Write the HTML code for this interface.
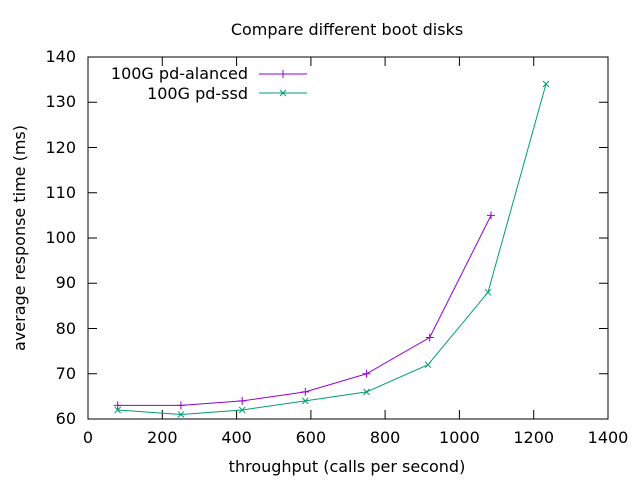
<!DOCTYPE html>
<html><head><style>
body{margin:0;background:#fff}
svg{display:block}
text{font-family:"DejaVu Sans","Liberation Sans",sans-serif;font-size:16px;fill:#000}
</style></head><body>
<svg width="640" height="480" viewBox="0 0 640 480" xmlns="http://www.w3.org/2000/svg">
<rect x="88" y="57" width="520" height="362" fill="none" stroke="#000" stroke-width="1"/>
<g stroke="#000" stroke-width="1">
<line x1="88" y1="419" x2="97" y2="419"/><line x1="608" y1="419" x2="599" y2="419"/>
<line x1="88" y1="373.75" x2="97" y2="373.75"/><line x1="608" y1="373.75" x2="599" y2="373.75"/>
<line x1="88" y1="328.5" x2="97" y2="328.5"/><line x1="608" y1="328.5" x2="599" y2="328.5"/>
<line x1="88" y1="283.25" x2="97" y2="283.25"/><line x1="608" y1="283.25" x2="599" y2="283.25"/>
<line x1="88" y1="238" x2="97" y2="238"/><line x1="608" y1="238" x2="599" y2="238"/>
<line x1="88" y1="192.75" x2="97" y2="192.75"/><line x1="608" y1="192.75" x2="599" y2="192.75"/>
<line x1="88" y1="147.5" x2="97" y2="147.5"/><line x1="608" y1="147.5" x2="599" y2="147.5"/>
<line x1="88" y1="102.25" x2="97" y2="102.25"/><line x1="608" y1="102.25" x2="599" y2="102.25"/>
<line x1="88" y1="57" x2="97" y2="57"/><line x1="608" y1="57" x2="599" y2="57"/>
<line x1="88" y1="419" x2="88" y2="410"/><line x1="88" y1="57" x2="88" y2="66"/>
<line x1="162.3" y1="419" x2="162.3" y2="410"/><line x1="162.3" y1="57" x2="162.3" y2="66"/>
<line x1="236.6" y1="419" x2="236.6" y2="410"/><line x1="236.6" y1="57" x2="236.6" y2="66"/>
<line x1="310.9" y1="419" x2="310.9" y2="410"/><line x1="310.9" y1="57" x2="310.9" y2="66"/>
<line x1="385.1" y1="419" x2="385.1" y2="410"/><line x1="385.1" y1="57" x2="385.1" y2="66"/>
<line x1="459.4" y1="419" x2="459.4" y2="410"/><line x1="459.4" y1="57" x2="459.4" y2="66"/>
<line x1="533.7" y1="419" x2="533.7" y2="410"/><line x1="533.7" y1="57" x2="533.7" y2="66"/>
<line x1="608" y1="419" x2="608" y2="410"/><line x1="608" y1="57" x2="608" y2="66"/>
</g>
<g text-anchor="end">
<text x="76" y="424">60</text><text x="76" y="379">70</text><text x="76" y="334">80</text>
<text x="76" y="288">90</text><text x="76" y="243">100</text><text x="76" y="198">110</text>
<text x="76" y="153">120</text><text x="76" y="107">130</text><text x="76" y="62">140</text>
</g>
<g text-anchor="middle">
<text x="88" y="443">0</text><text x="162.3" y="443">200</text><text x="236.6" y="443">400</text>
<text x="310.9" y="443">600</text><text x="385.1" y="443">800</text><text x="459.4" y="443">1000</text>
<text x="533.7" y="443">1200</text><text x="608" y="443">1400</text>
<text x="347" y="472">throughput (calls per second)</text>
<text x="347" y="35">Compare different boot disks</text>
<text transform="translate(25,238) rotate(-90)">average response time (ms)</text>
</g>
<g text-anchor="end">
<text x="248" y="79">100G pd-alanced</text>
<text x="248" y="99">100G pd-ssd</text>
</g>
<g fill="none" stroke-width="1">
<polyline stroke="#9400d3" points="117.7,405.4 180.9,405.4 242.2,400.9 305.3,391.9 366.6,373.75 429.7,337.5 491,215.4"/>
<line stroke="#9400d3" x1="259" y1="74" x2="307" y2="74"/>
<polyline stroke="#009e73" points="117.7,410 180.9,414.5 242.2,410 305.3,400.9 366.6,391.9 428,364.7 488,292.3 546,84"/>
<line stroke="#009e73" x1="259" y1="93" x2="307" y2="93"/>
</g>
<g stroke="#9400d3" stroke-width="1">
<path d="M113.7 405.4h8M117.7 401.4v8M176.9 405.4h8M180.9 401.4v8M238.2 400.9h8M242.2 396.9v8M301.3 391.9h8M305.3 387.9v8M362.6 373.75h8M366.6 369.75v8M425.7 337.5h8M429.7 333.5v8M487 215.4h8M491 211.4v8M279 74h8M283 70v8"/>
</g>
<g stroke="#009e73" stroke-width="1">
<path d="M114.7 407l6 6M114.7 413l6-6M177.9 411.5l6 6M177.9 417.5l6-6M239.2 407l6 6M239.2 413l6-6M302.3 397.9l6 6M302.3 403.9l6-6M363.6 388.9l6 6M363.6 394.9l6-6M425 361.7l6 6M425 367.7l6-6M485 289.3l6 6M485 295.3l6-6M543 81l6 6M543 87l6-6M280 90l6 6M280 96l6-6"/>
</g>
</svg>
</body></html>
